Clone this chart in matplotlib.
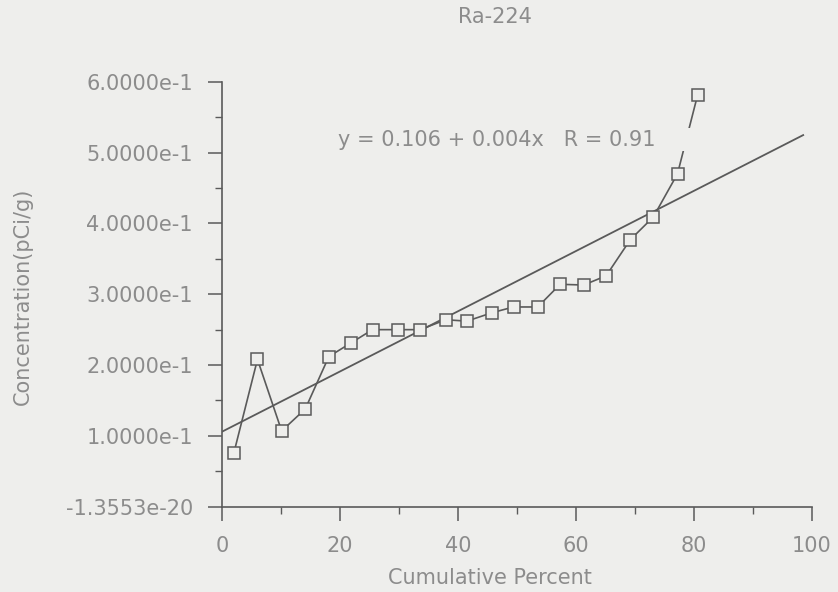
import numpy as np
import matplotlib
matplotlib.use("Agg")
import matplotlib.pyplot as plt
from matplotlib.ticker import MultipleLocator

# cumulative percent vs Ra-224 concentration (pCi/g)
cum_pct = [2.0, 6.0, 10.1, 14.1, 18.1, 21.8, 25.5, 29.8, 33.6, 37.9, 41.5,
           45.8, 49.4, 53.5, 57.3, 61.3, 65.1, 69.2, 73.1, 77.2, 80.6]
conc = [0.076, 0.208, 0.107, 0.138, 0.212, 0.231, 0.250, 0.250, 0.250, 0.264, 0.262,
        0.274, 0.282, 0.282, 0.314, 0.313, 0.326, 0.377, 0.409, 0.470, 0.581]

# linear fit shown on the chart
fit_a = 0.106
fit_b = 0.00425
fit_r = 0.91

y_ticks = [0.0, 0.1, 0.2, 0.3, 0.4, 0.5, 0.6]
y_labels = ["-1.3553e-20", "1.0000e-1", "2.0000e-1", "3.0000e-1",
            "4.0000e-1", "5.0000e-1", "6.0000e-1"]
x_ticks = [0, 20, 40, 60, 80, 100]

bg = "#eeeeec"
ink = "#5a5a5a"
txt = "#8c8c8c"

plt.rcParams["font.family"] = ["DejaVu Sans"]

fig = plt.figure(figsize=(8.38, 5.92), dpi=100, facecolor=bg)
ax = fig.add_axes([0.265, 0.144, 0.704, 0.718], facecolor=bg)

xfit = np.array([0, 98.5])
ax.plot(xfit, fit_a + fit_b * xfit, color=ink, lw=1.3, zorder=2)
ax.plot(cum_pct, conc, color=ink, lw=1.2, marker="s", ms=9, mfc=bg,
        mec=ink, mew=1.1, zorder=3, clip_on=False)

# the label box blanks out the part of the data line passing behind it
eq = "y = %.3f + %.3fx   R = %.2f" % (fit_a, fit_b, fit_r)
ax.text(19.7, 0.518, eq + "\u00a0" * 6, fontsize=15, color=txt, va="center",
        ha="left", zorder=4,
        bbox=dict(boxstyle="square,pad=0.08", fc=bg, ec="none"))

ax.set_xlim(0, 100)
ax.set_ylim(0, 0.6)
ax.set_xticks(x_ticks)
ax.set_xticklabels([str(v) for v in x_ticks])
ax.set_yticks(y_ticks)
ax.set_yticklabels(y_labels)
ax.xaxis.set_minor_locator(MultipleLocator(10))
ax.yaxis.set_minor_locator(MultipleLocator(0.05))

for side in ["top", "right"]:
    ax.spines[side].set_visible(False)
for side in ["left", "bottom"]:
    ax.spines[side].set_color(ink)
    ax.spines[side].set_linewidth(1.2)

ax.tick_params(which="major", direction="out", length=10, width=1.1,
               color=ink, labelcolor=txt, labelsize=15)
ax.tick_params(which="minor", direction="out", length=5, width=1.0, color=ink)
ax.tick_params(axis="y", which="major", pad=11)
ax.tick_params(axis="x", which="major", pad=11)

fig.text(0.591, 0.971, "Ra-224", fontsize=15, color=txt, ha="center", va="center")
fig.text(0.585, 0.024, "Cumulative Percent", fontsize=15, color=txt,
         ha="center", va="center")
fig.text(0.027, 0.5, "Concentration(pCi/g)", fontsize=15, color=txt,
         ha="center", va="center", rotation=90)

fig.savefig("out.png", dpi=100, facecolor=bg)
